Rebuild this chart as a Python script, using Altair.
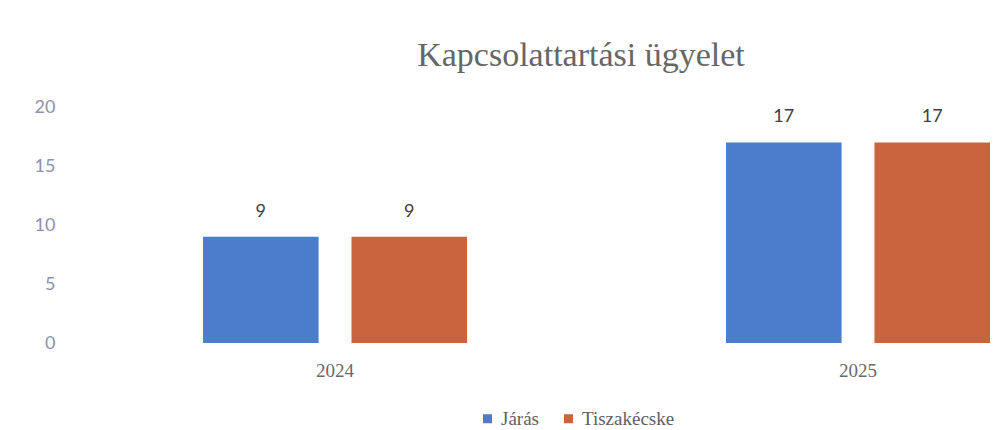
import altair as alt
import pandas as pd

years = ["2024", "2025"]
series = ["Járás", "Tiszakécske"]
jaras = [9, 17]
tiszakecske = [9, 17]
colors = ["#4a7dcb", "#c9643f"]

rows = []
for i, y in enumerate(years):
    rows.append({"year": y, "series": series[0], "value": jaras[i]})
    rows.append({"year": y, "series": series[1], "value": tiszakecske[i]})
df = pd.DataFrame(rows)

x_enc = alt.X("year:N", sort=years, title=None,
              scale=alt.Scale(paddingInner=0.4952, paddingOuter=0.1272, align=1),
              axis=alt.Axis(labelAngle=0, domain=False, ticks=False, labelPadding=18,
                            labelFont="Liberation Serif", labelFontSize=19,
                            labelColor="#6a6a6a"))
xo_enc = alt.XOffset("series:N", sort=series,
                     scale=alt.Scale(paddingInner=0.2215, paddingOuter=0))
y_enc = alt.Y("value:Q", title=None,
              scale=alt.Scale(domain=[0, 20], nice=False),
              axis=alt.Axis(values=[0, 5, 10, 15, 20], domain=False, ticks=False, grid=False,
                            labelPadding=15, labelFont="Lato", labelFontSize=18,
                            labelColor="#8c93ab"))

bars = alt.Chart(df).mark_bar().encode(
    x=x_enc, xOffset=xo_enc, y=y_enc,
    color=alt.Color("series:N", sort=series,
                    scale=alt.Scale(domain=series, range=colors),
                    legend=alt.Legend(title=None, orient="none", direction="horizontal",
                                      legendX=408, legendY=302, symbolType="square",
                                      symbolSize=81, symbolStrokeWidth=0,
                                      labelFont="Liberation Serif", labelFontSize=19,
                                      labelColor="#606060", columnPadding=20,
                                      symbolOffset=0, labelOffset=4))
)

labels = alt.Chart(df).mark_text(dy=-25, baseline="middle", font="Lato", fontSize=18,
                                 color="#404040").encode(
    x=alt.X("year:N", sort=years), xOffset=alt.XOffset("series:N", sort=series),
    y="value:Q", text="value:Q"
)

chart = alt.layer(bars, labels).properties(
    width=920, height=236,
    title=alt.TitleParams("Kapcsolattartási ügyelet", font="Liberation Serif", fontSize=34,
                          fontWeight="normal", color="#666666", dx=51, offset=25),
    autosize=alt.AutoSizeParams(type="none"),
    padding={"left": 62, "right": 0, "top": 99, "bottom": 87},
).configure(background="white").configure_view(stroke=None)

chart.save("out.html", embed_options={"renderer": "svg", "actions": False})
